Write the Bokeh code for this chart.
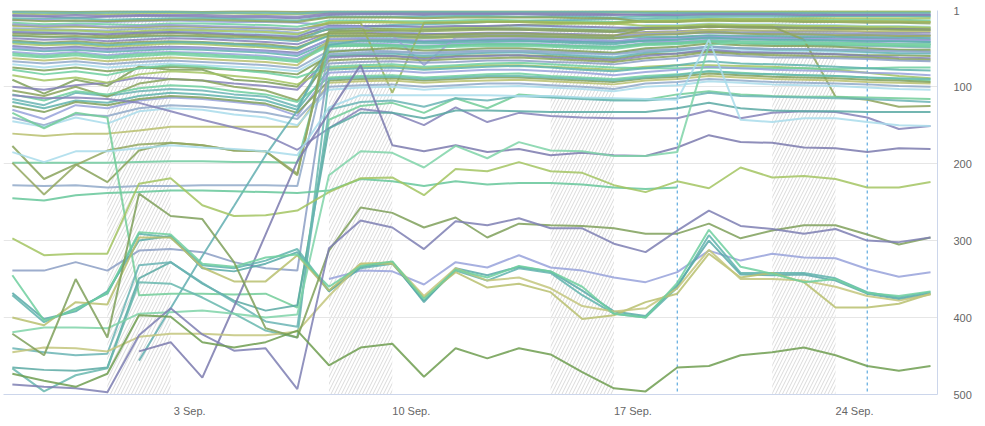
import pandas as pd
from bokeh.plotting import figure
from bokeh.models import Range1d, FixedTicker, Span
from bokeh.embed import file_html
from bokeh.resources import INLINE

# ---------------- data ----------------
dates = pd.date_range("2018-08-29", periods=30, freq="D")
tick_dates = ["2018-09-03", "2018-09-10", "2018-09-17", "2018-09-24"]
tick_labels = ["3 Sep.", "10 Sep.", "17 Sep.", "24 Sep."]
event_dates = ["2018-09-19", "2018-09-25"]
y_ticks = [1, 100, 200, 300, 400, 500]
N = None

# top (dense) series – ranks
t01 = [2,2,3,2,2,2,3,2,2,3, 2,2,2,2,2,2,2,2,2,2, 2,2,2,2,2,2,2,2,2,2]
t02 = [5,6,5,6,5,4,5,5,6,6, 4,4,4,4,4,4,4,4,4,4, 3,3,3,3,3,3,3,3,3,3]
t03 = [8,9,10,9,8,8,9,10,10,11, 7,6,6,7,6,6,6,7,7,7, 6,5,5,5,5,5,6,6,6,6]
t04 = [11,12,11,13,12,11,11,12,13,14, 9,9,9,9,8,8,9,9,9,10, 8,8,7,7,7,8,8,8,8,9]
t05 = [14,13,15,16,15,14,15,16,16,17, 20,21,22,24,24,25,26,27,28,29, 30,31,30,31,32,33,34,34,35,36]
t06 = [17,19,18,19,20,18,18,19,20,22, 14,14,15,15,14,13,14,14,15,16, 13,12,11,12,12,12,13,13,13,14]
t07 = [21,22,22,23,23,21,22,23,24,26, 17,16,17,18,17,16,16,17,18,19, 15,15,13,14,14,15,15,15,16,16]
t08 = [24,25,26,27,25,24,25,26,27,30, 26,27,29,31,32,33,35,36,38,40, 41,42,41,43,44,45,46,47,48,49]
t09 = [27,29,28,30,29,28,28,30,31,33, 22,22,22,24,23,22,21,22,24,25, 20,20,18,19,19,20,20,21,21,22]
t10 = [31,32,31,34,32,30,32,33,35,37, 25,24,25,26,25,24,24,25,26,27, 23,22,20,21,22,22,23,23,24,24]
t11 = [34,35,36,37,35,34,35,37,38,41, 24,22,20,19,18,16,15,14,13,12, 11,10,9,9,9,9,8,8,8,8]
t12 = [37,39,38,41,39,37,38,40,42,45, 30,30,31,32,31,30,30,31,32,33, 29,28,26,27,28,28,28,29,30,30]
t13 = [40,43,41,44,42,41,42,44,45,49, 33,33,34,35,34,33,33,34,35,36, 31,31,28,30,30,31,31,32,32,33]
t14 = [44,46,45,48,46,44,45,47,49,52, 30,28,26,24,23,22,20,19,18,17, 15,14,12,12,12,11,11,11,11,11]
t15 = [47,50,48,51,49,48,49,51,53,56, 39,38,39,41,40,39,38,39,41,42, 37,36,34,35,36,36,37,37,38,39]
t16 = [51,54,52,55,53,51,52,54,56,60, 42,41,42,44,43,42,41,42,44,45, 40,39,37,38,39,39,40,40,41,42]
t17 = [55,58,55,59,56,55,56,58,60,64, 44,44,45,47,45,44,44,45,47,48, 43,42,39,41,42,42,43,43,44,45]
t18 = [59,62,59,63,60,58,60,62,64,68, 47,47,48,50,48,47,47,48,50,51, 46,45,42,44,45,45,46,46,47,48]
t19 = [63,66,63,67,64,62,64,66,68,72, 40,40,38,37,36,35,35,34,33,33, 30,29,26,27,27,27,27,28,28,28]
t20 = [67,70,67,71,68,66,68,70,72,76, 53,53,54,56,54,53,53,54,56,57, 52,51,48,50,51,51,52,52,53,54]
t21 = [71,75,71,75,72,70,72,74,76,80, 57,56,57,59,57,56,56,57,59,61, 55,54,51,53,54,54,55,56,56,57]
t22 = [75,79,75,80,76,74,76,78,80,84, 60,59,60,62,60,59,59,60,62,64, 58,57,54,56,57,57,58,59,59,60]
t23 = [3,4,4,4,3,3,4,4,4,5, 3,3,3,3,3,3,3,3,3,3, 4,4,4,4,4,4,4,4,4,4]
t24 = [7,8,7,8,7,7,7,8,8,9, 5,5,5,5,5,5,5,5,5,6, 7,7,6,6,6,7,7,7,7,7]
t25 = [13,15,14,15,14,13,13,14,15,16, 10,10,10,11,10,10,10,10,11,11, 16,16,14,15,15,16,16,17,17,18]
t26 = [26,27,27,29,28,26,27,28,29,32, 16,16,16,17,16,15,15,16,17,18, 21,21,19,20,20,21,21,22,22,23]
t27 = [29,30,31,32,30,29,30,32,33,35, 21,21,21,22,21,21,20,21,22,23, 24,24,22,23,23,24,24,25,25,26]
t28 = [42,44,43,46,44,42,43,45,47,50, 34,35,35,36,35,34,34,35,36,37, 35,35,33,34,34,35,35,36,36,37]
t29 = [49,52,50,53,51,49,50,52,54,58, 38,37,38,40,39,37,37,38,40,41, 38,38,35,36,37,38,38,39,39,40]
t30 = [57,60,57,61,58,56,58,60,62,66, 45,45,46,48,46,45,45,46,48,49, 44,44,41,43,43,44,44,45,46,46]
olive_v = [20,22,21,23,22,21,22,23,24,26, 18,17,108,17,17,16,16,17,17,17, 15,15,14,14,14,14,15,15,15,16]
lav_dip = [19,21,20,22,21,20,21,22,23,25, 22,22,33,72,36,33,32,32,33,34, 32,31,29,30,30,31,31,32,32,33]
olive_drop = [33,35,34,36,34,33,34,35,36,39, 31,31,32,33,32,31,31,32,33,34, 25,24,22,22,22,39,113,117,126,125]

# middle band series
m01 = [91,109,91,99,74,78,78,91,94,100, 55,52,50,53,52,50,50,52,54,56, 50,48,44,46,47,47,48,50,52,52]
m02 = [116,124,108,112,106,103,105,110,113,126, 60,58,57,60,58,56,55,58,60,62, 56,53,48,50,52,52,53,55,57,57]
m03 = [100,104,98,95,88,90,92,96,99,104, 62,60,60,64,61,60,59,62,64,66, 60,57,52,55,56,57,58,60,62,63]
m04 = [105,112,100,113,96,90,92,100,105,118, 66,64,63,66,64,63,62,64,66,68, 63,60,55,58,59,60,61,62,64,65]
m05 = [85,92,88,95,84,80,82,86,90,97, 76,74,73,76,74,72,72,74,76,78, 74,72,72,73,74,76,78,82,86,89]
m06 = [78,84,80,85,76,72,74,78,82,88, 74,72,71,74,72,70,69,71,73,75, 76,76,75,76,76,76,77,76,75,75]
m07 = [120,128,118,121,112,108,110,114,118,130, 78,76,75,78,76,74,73,75,78,80, 76,72,67,70,71,72,74,76,78,79]
m08 = [130,142,124,128,118,114,116,120,124,138, 82,80,79,82,80,78,78,80,82,85, 81,78,74,76,78,79,80,82,83,85]
m09 = [110,118,106,110,102,98,100,106,110,120, 88,86,85,88,86,84,83,86,88,90, 86,84,80,82,84,85,86,88,90,92]
m10 = [161,164,161,161,157,152,152,152,152,152, 95,93,92,95,93,92,91,93,95,97, 92,90,86,88,90,91,92,94,95,96]
m11 = [140,150,136,138,128,124,126,130,134,142, 100,98,97,100,98,96,96,98,100,103, 96,94,90,92,94,95,96,97,99,100]
m12 = [145,152,140,148,132,128,130,136,140,150, 104,101,100,104,101,100,99,101,103,106, 100,98,93,95,97,98,99,101,103,104]
m13 = [125,133,120,124,116,112,114,118,122,134, 92,90,89,92,90,88,88,90,92,94, 89,87,83,85,87,88,89,91,92,94]

# lower, clearly visible series
mint_b = [199,199,199,199,198,197,197,198,198,199, 48,46,46,48,46,45,45,46,47,48, 45,43,40,41,42,42,43,44,45,45]
grayblue_1 = [228,229,228,231,229,229,228,228,228,229, 58,56,55,57,56,54,54,56,57,58, 54,52,48,50,51,51,52,53,54,55]
grayblue_2 = [339,339,328,339,313,311,315,328,336,339, 70,68,67,69,68,66,66,68,69,71, 66,63,58,60,62,62,63,64,66,67]
olive_1 = [177,220,201,224,183,173,176,183,184,215, 28,27,27,28,27,26,26,27,28,29, 25,24,22,23,24,24,25,25,26,26]
olive_2 = [199,240,202,183,175,173,176,183,184,213, 35,34,34,36,35,34,34,35,36,37, 33,32,29,31,32,32,33,33,34,34]
teal_rise = [N,N,N,N,456,388,320,255,189,131, 46,40,40,42,41,40,40,41,42,43, 40,39,36,38,39,39,40,41,41,42]
mint_drop = [134,154,134,140,371,369,369,370,369,387, 143,125,121,134,115,128,110,113,115,117, 117,110,106,110,112,113,113,114,115,116]
purple_2 = [111,115,114,116,121,132,143,153,163,182, 154,129,134,150,127,146,134,138,140,141, 141,141,131,141,134,132,133,140,155,151]
teal_up = [465,468,469,465,349,328,356,378,391,384, 154,134,134,141,131,131,132,133,133,133, 133,128,121,128,131,132,132,133,133,133]
teal_zig = [466,496,475,466,354,356,374,395,417,426, 90,88,87,90,88,86,86,88,90,92, 88,85,80,83,84,85,86,88,89,90]
teal_low = [440,445,449,447,332,328,355,380,405,412, 130,120,118,126,115,118,112,114,116,118, 118,115,108,112,113,114,115,116,118,120]
light_blue = [185,198,184,184,180,176,179,181,184,189, 127,111,111,111,111,111,112,112,114,115, 116,117,39,143,146,141,141,146,150,151]
mint_d = [245,248,241,238,237,235,235,236,237,238, 235,220,223,229,223,227,225,225,227,231, 233,231,N,N,N,N,N,N,N,N]
yellow_green = [297,319,317,317,226,219,254,268,267,261, 237,219,218,241,207,210,198,210,212,228, 237,223,232,205,218,216,220,231,231,224]
purple_a = [N,N,N,N,444,432,478,386,292,197, 134,72,176,184,176,185,181,189,186,189, 190,179,163,172,173,179,180,185,180,181]
mint_flat = [419,413,413,414,395,393,391,395,400,396, 215,184,186,205,177,193,172,183,184,190, 190,185,46,42,42,43,43,45,45,45]
lavender_h = [N,N,N,N,N,N,N,N,N,N, 350,339,340,357,328,335,319,335,339,348, 354,341,313,326,317,322,323,337,347,341]
teal_1 = [371,406,388,369,291,296,332,336,326,311, 365,336,330,378,339,352,336,342,371,395, 400,361,293,342,342,342,349,367,374,367]
teal_2 = [368,402,392,366,300,294,336,340,330,315, 366,334,328,380,336,345,334,340,365,392, 398,358,300,344,345,344,352,369,376,369]
khaki_1 = [400,410,380,383,296,296,335,353,353,319, 365,330,330,374,341,361,356,367,402,397, 380,369,317,348,342,354,387,387,382,369]
khaki_2 = [445,439,440,444,425,421,421,423,423,418, 372,330,328,372,336,352,348,362,385,392, 388,362,312,350,350,352,360,372,378,370]
mint_m = [345,404,390,368,289,292,330,334,322,318, 360,333,327,376,338,348,333,340,360,395, 400,355,286,334,343,354,350,368,372,366]
olive_zig = [421,449,350,426,239,268,272,328,414,426, 313,257,264,283,270,296,278,280,281,284, 291,291,278,297,287,280,280,292,305,296]
purple_low = [487,490,492,497,423,388,422,443,440,493, 310,274,283,311,275,280,271,284,284,304, 315,287,261,281,285,291,285,300,302,296]
green_bottom = [473,482,490,473,397,399,432,439,432,417, 462,439,434,477,440,453,440,448,471,492, 496,465,463,449,445,439,449,463,469,463]

palette = ["#8aa35c", "#a3c462", "#7e7fb3", "#5fb3ad", "#98a2da", "#6fcf9f",
           "#b8bf6e", "#90a9c9", "#a9dceb", "#7fa05a", "#6ab4b4", "#8583b8"]

top_series = [t01, t02, t03, t04, t05, t06, t07, t08, t09, t10, t11, t12, t13, t14, t15,
              t16, t17, t18, t19, t20, t21, t22, t23, t24, t25, t26, t27, t28, t29, t30,
              olive_v, lav_dip, olive_drop, m01, m02, m03, m04, m05, m06, m07, m08, m09,
              m10, m11, m12, m13]
top_colors = [palette[i % len(palette)] for i in range(len(top_series))]
top_colors[30] = "#9bb35c"   # olive V
top_colors[31] = "#9aa0d6"   # lavender dip
top_colors[32] = "#8ea35a"   # olive drop
top_colors[38] = "#6fcf9f"   # mint flat right

low_series = [
    (mint_b, "#70ca9f"), (grayblue_1, "#90a9c9"), (grayblue_2, "#8c9fc4"),
    (olive_1, "#8aa35c"), (olive_2, "#94a862"), (teal_rise, "#62aeb0"),
    (mint_drop, "#72cc99"), (purple_2, "#8583b8"), (teal_up, "#5aa9a3"),
    (teal_zig, "#67b7ae"), (teal_low, "#6ab4b4"), (light_blue, "#a9dceb"),
    (mint_d, "#66c79a"), (yellow_green, "#a3c462"), (purple_a, "#7b7aae"),
    (mint_flat, "#7fd4a8"), (lavender_h, "#98a2da"), (teal_1, "#5fb3ad"),
    (teal_2, "#58a9a8"), (khaki_1, "#b8bf6e"), (khaki_2, "#c3c67c"),
    (mint_m, "#6fcf9f"), (olive_zig, "#7fa05a"), (purple_low, "#7e7fb3"),
    (green_bottom, "#6e9d50"),
]

# ---------------- figure ----------------
day_index = {d.strftime("%Y-%m-%d"): i for i, d in enumerate(dates)}
LABEL_SHIFT = 0.6
tick_pos = [day_index[d] + LABEL_SHIFT for d in tick_dates]

p = figure(width=985, height=426, output_backend="svg", toolbar_location=None,
           x_range=Range1d(-0.28, 29.22), y_range=Range1d(500, 1),
           y_axis_location="right",
           min_border_left=3, min_border_right=48, min_border_top=10, min_border_bottom=32)
p.outline_line_color = None
p.background_fill_color = "white"
p.border_fill_color = "white"

# weekend hatched bands
wl, wr = [], []
for i, d in enumerate(dates):
    if d.weekday() == 5:
        wl.append(i)
        wr.append(min(i + 2, len(dates) - 1))
p.quad(left=wl, right=wr, bottom=[500] * len(wl), top=[1] * len(wl),
       fill_alpha=0, line_color=None, hatch_pattern="/", hatch_color="#dadada",
       hatch_scale=7, hatch_weight=1, level="underlay")

for d in event_dates:
    p.add_layout(Span(location=day_index[d], dimension="height", line_color="#3f9ad8",
                      line_dash="3 3", line_width=1, level="underlay"))


def draw(vals, color):
    xs = [i for i, v in enumerate(vals) if v is not None]
    ys = [v for v in vals if v is not None]
    p.line(xs, ys, line_color=color, line_width=2, line_alpha=0.85)


for vals, color in zip(top_series, top_colors):
    draw(vals, color)
for vals, color in low_series:
    draw(vals, color)

# axes
p.xaxis.ticker = FixedTicker(ticks=tick_pos)
p.xaxis.major_label_overrides = {t: l for t, l in zip(tick_pos, tick_labels)}
p.yaxis.ticker = FixedTicker(ticks=y_ticks)
for ax in (p.xaxis, p.yaxis):
    ax.axis_line_color = "#ccd6eb"
    ax.major_tick_line_color = None
    ax.minor_tick_line_color = None
    ax.major_tick_out = 0
    ax.major_tick_in = 0
    ax.major_label_text_color = "#666666"
    ax.major_label_text_font = "Liberation Sans"
    ax.major_label_text_font_size = "11px"
p.xaxis.major_label_standoff = 10
p.yaxis.major_label_standoff = 16
p.xgrid.grid_line_color = None
p.ygrid.ticker = FixedTicker(ticks=y_ticks)
p.ygrid.grid_line_color = "#e6e6e6"

open("out.html", "w").write(file_html(p, INLINE))
